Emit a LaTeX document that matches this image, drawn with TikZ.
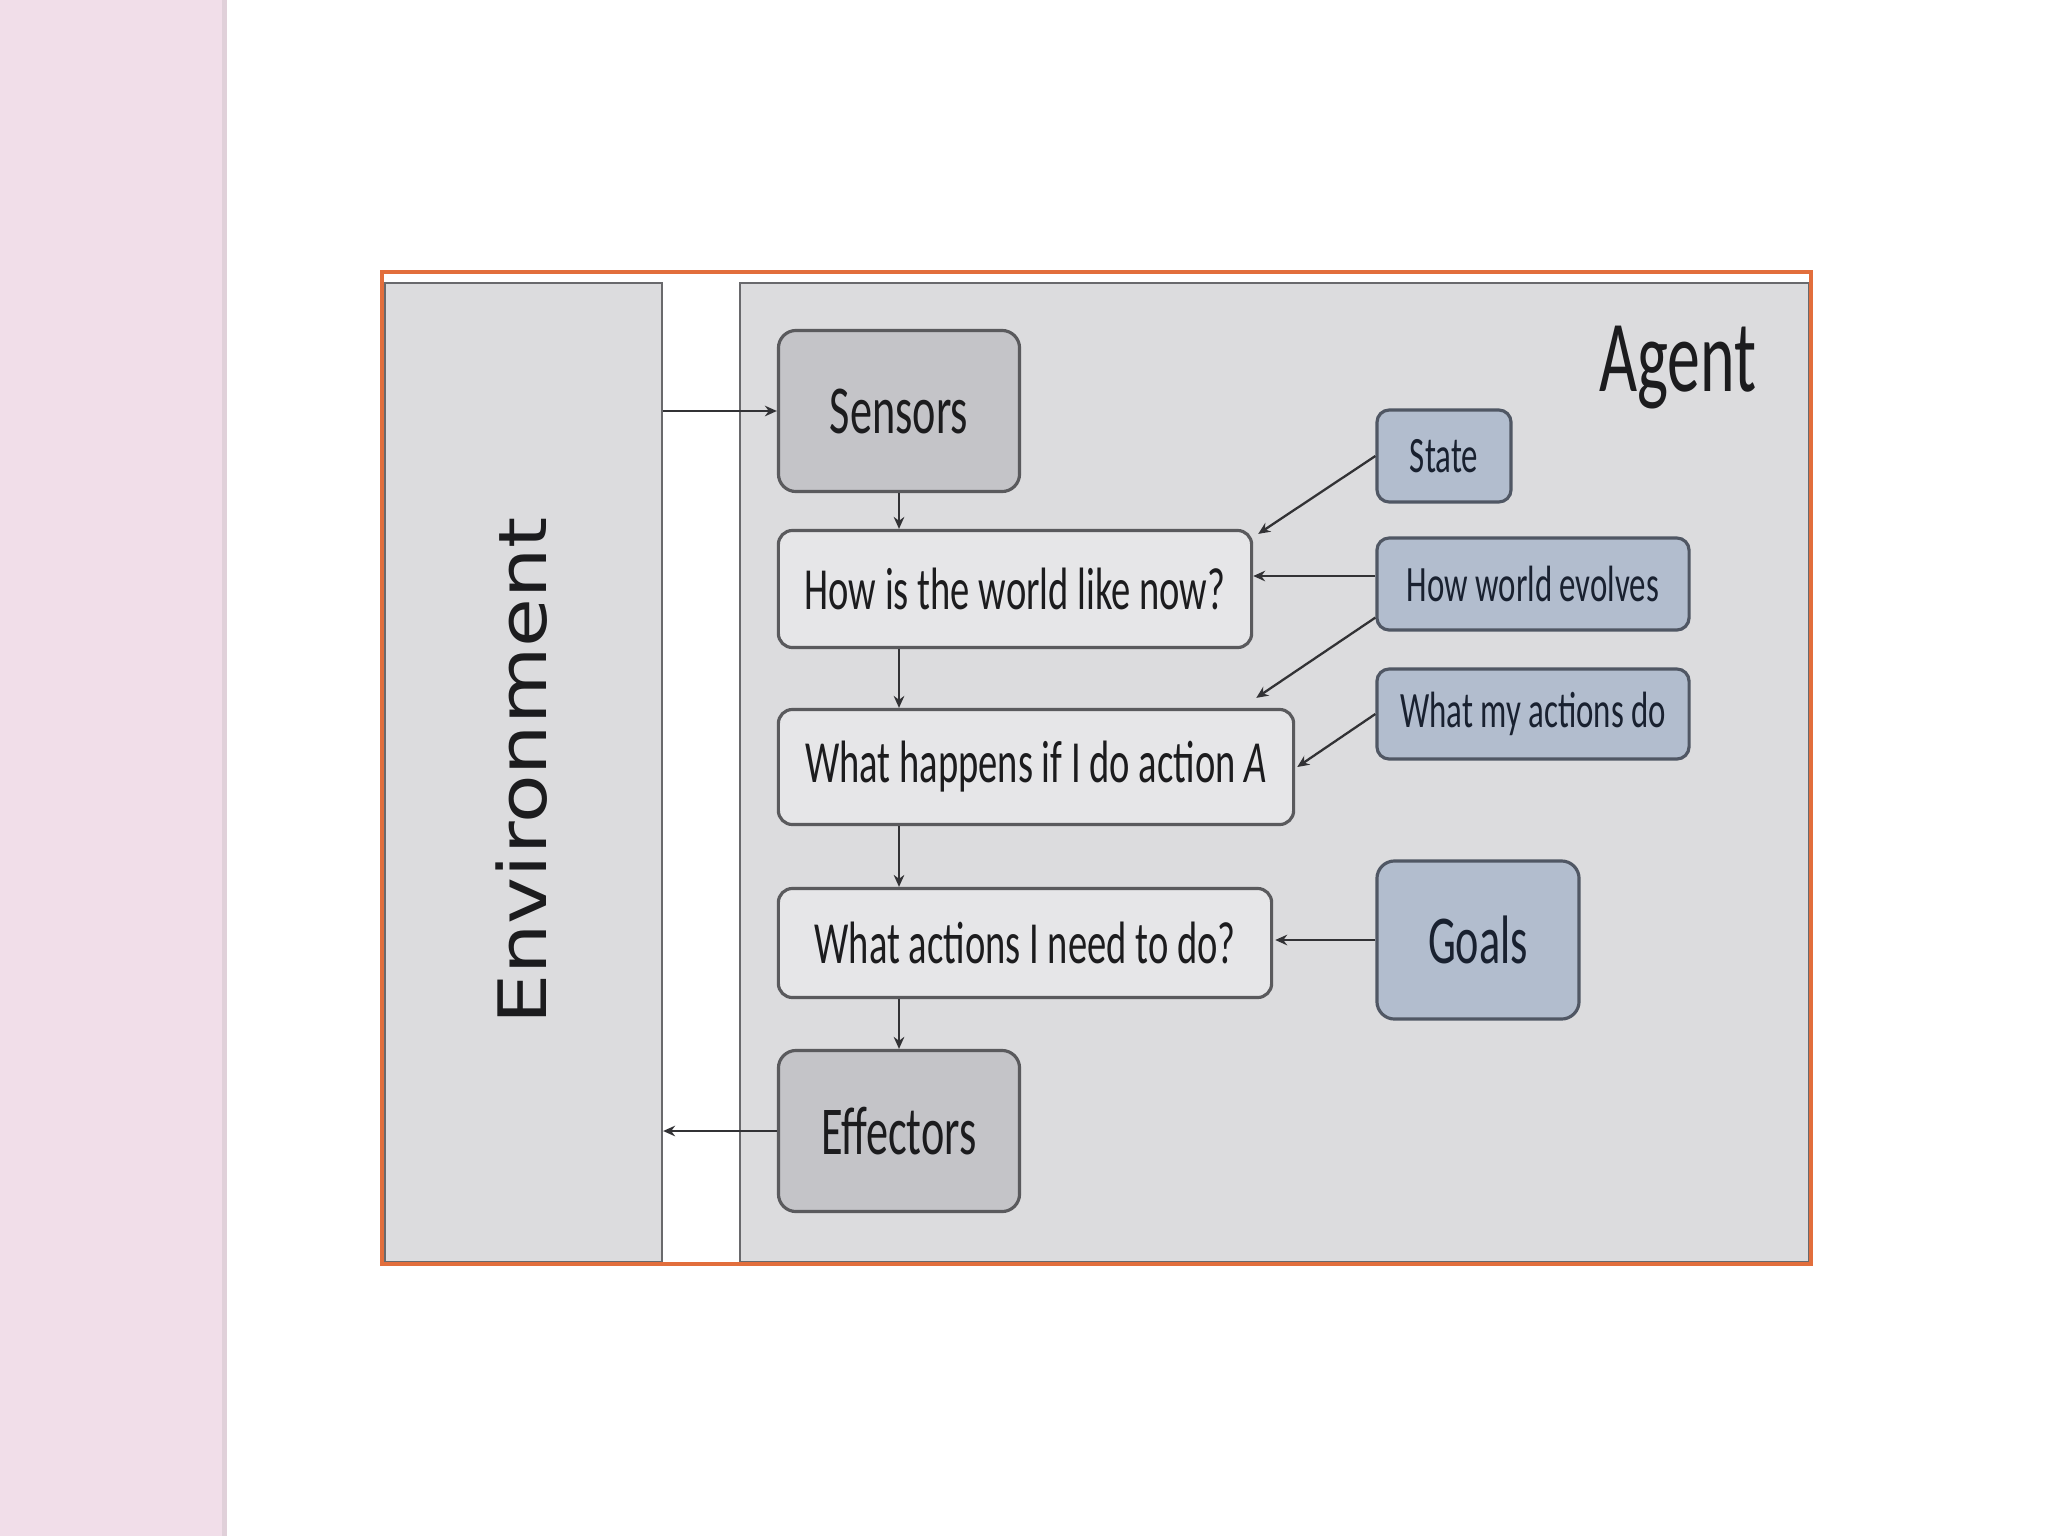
\documentclass[tikz,border=0pt]{standalone}
\usepackage{fontspec}
\setmainfont{Carlito}
\newfontfamily\narrowfont[FakeStretch=0.645]{Carlito}
\newfontfamily\envfont{DejaVu Sans}
\usetikzlibrary{arrows.meta}
\definecolor{pinkbg}{RGB}{241,222,233}
\definecolor{panelfill}{RGB}{220,220,222}
\definecolor{panelline}{RGB}{105,105,108}
\definecolor{orangeframe}{RGB}{226,110,60}
\definecolor{darkfill}{RGB}{196,196,200}
\definecolor{lightfill}{RGB}{230,230,232}
\definecolor{bluefill}{RGB}{178,189,206}
\definecolor{boxline}{RGB}{90,90,93}
\definecolor{blueline}{RGB}{80,87,100}
\definecolor{arrowcol}{RGB}{50,50,53}
\definecolor{navytext}{RGB}{25,33,48}
\definecolor{graytext}{RGB}{28,28,30}
\tikzset{
  panel/.style={draw=panelline, line width=0.6pt, fill=panelfill, inner sep=0pt},
  graybox/.style={draw=boxline, line width=0.9pt, fill=darkfill, rounded corners=5pt,
    inner sep=0pt, text=graytext, font={\narrowfont\fontsize{19.5}{22}\selectfont}},
  lightbox/.style={draw=boxline, line width=0.9pt, fill=lightfill, rounded corners=4pt,
    inner sep=0pt, text=graytext, font={\narrowfont\fontsize{17}{20}\selectfont}},
  bluebox/.style={draw=blueline, line width=0.9pt, fill=bluefill, rounded corners=3.5pt,
    inner sep=0pt, text=navytext, font={\narrowfont\fontsize{14.5}{17}\selectfont}},
  arr/.style={draw=arrowcol, line width=0.65pt, -{Stealth[length=3.4pt,width=3pt]}}
}
\begin{document}
\begin{tikzpicture}[x=0.01cm,y=-0.01cm]
\useasboundingbox[fill=white] (0,0) rectangle (2048,1536);
% pink side strip
\fill[pinkbg] (0,0) rectangle (227,1536);
\fill[pinkbg!85!gray] (222,0) rectangle (227,1536);
% panels
\node[panel, minimum width=2.77cm, minimum height=9.79cm] (env) at (523.5,772.5) {};
\node[panel, minimum width=10.69cm, minimum height=9.79cm] (agent) at (1274.5,772.5) {};
% orange frame
\draw[orangeframe, line width=1.4pt] (382,272) rectangle (1811,1264);
% labels
\node[rotate=90, font={\envfont\fontsize{22.6}{26}\selectfont}, text=graytext] (envlabel) at (522,771)
  {\scalebox{1}[0.84]{Environment}};
\node[font={\narrowfont\fontsize{29}{32}\selectfont}, text=graytext] (agentlabel) at (1678,368) {Agent};
% main column
\node[graybox, minimum width=2.41cm, minimum height=1.61cm] (sensors) at (899,411) {Sensors};
\node[lightbox, minimum width=4.73cm, minimum height=1.17cm] (hownow) at (1015,589) {How is the world like now?};
\node[lightbox, minimum width=5.15cm, minimum height=1.15cm] (happens) at (1036,767) {What happens if I do action \textit{A}};
\node[lightbox, minimum width=4.93cm, minimum height=1.09cm] (actions) at (1025,943) {What actions I need to do?};
\node[graybox, minimum width=2.41cm, minimum height=1.61cm] (effectors) at (899,1131) {Effectors};
% knowledge boxes
\node[bluebox, minimum width=1.34cm, minimum height=0.92cm] (state) at (1444,456) {State};
\node[bluebox, minimum width=3.12cm, minimum height=0.92cm] (howworld) at (1533,584) {How world evolves};
\node[bluebox, minimum width=3.12cm, minimum height=0.90cm] (whatmy) at (1533,714) {What my actions do};
\node[bluebox, font={\narrowfont\fontsize{19.5}{22}\selectfont}, rounded corners=5pt,
  minimum width=2.02cm, minimum height=1.58cm] (goals) at (1478,940) {Goals};
% connectors
\draw[arr] (env.east |- sensors.west) -- (sensors.west);
\draw[arr] (sensors.south) -- (sensors.south |- hownow.north);
\draw[arr] (sensors.south |- hownow.south) -- (sensors.south |- happens.north);
\draw[arr] (sensors.south |- happens.south) -- (sensors.south |- actions.north);
\draw[arr] (sensors.south |- actions.south) -- (effectors.north);
\draw[arr] (effectors.west) -- (effectors.west -| env.east);
\draw[arr] (state.west) -- ([shift={(5,5)}]hownow.north east);
\draw[arr] ([shift={(0,-8)}]howworld.west) -- ([shift={(0,-8)}]howworld.west -| hownow.east);
\draw[arr] ([shift={(0,-14)}]howworld.south west) -- ([shift={(-39,-10)}]happens.north east);
\draw[arr] (whatmy.west) -- ([shift={(2,0)}]happens.east);
\draw[arr] (goals.west) -- ([shift={(2,0)}]goals.west -| actions.east);
\end{tikzpicture}
\end{document}
